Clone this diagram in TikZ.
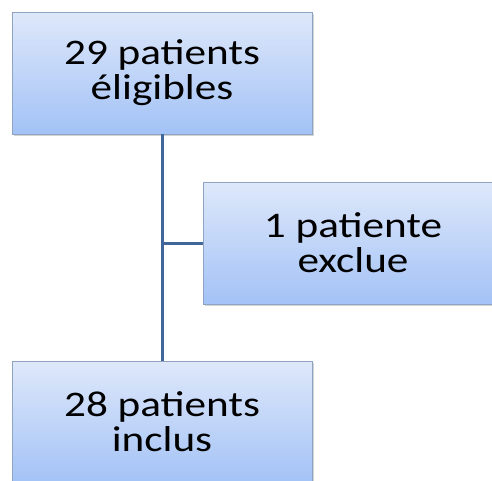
\documentclass[tikz,border=0pt]{standalone}
\usepackage{fontspec}
\newfontfamily\boxfont[FakeStretch=1.2]{Carlito}
\usepackage{tikz}
\usetikzlibrary{shadows}

\definecolor{boxtop}{HTML}{DEE8FA}
\definecolor{boxbot}{HTML}{A3C2F6}
\definecolor{boxedge}{HTML}{8FA3C2}
\definecolor{linkblue}{HTML}{41669A}

\begin{document}
\begin{tikzpicture}[x=1pt, y=-1pt,
    every node/.style={rectangle, draw=boxedge, line width=0.8pt,
        top color=boxtop, bottom color=boxbot,
        minimum width=300pt, minimum height=122pt, align=center,
        font=\boxfont\fontsize{36}{35}\selectfont,
        drop shadow={opacity=0.35, shadow xshift=1.5pt, shadow yshift=-2pt}}]
    \useasboundingbox (0,0) rectangle (492,480);
    \clip (0,0) rectangle (492,480);

    \node (elig) at (162,73) {29 patients\\éligibles};
    \node (excl) at (353,243) {1 patiente\\exclue};
    \node (incl) at (162,422) {28 patients\\inclus};
    \coordinate (j) at (elig |- excl);

    \draw[linkblue, line width=3pt] (elig) -- (incl);
    \draw[linkblue, line width=3pt] (j) -- (excl);
\end{tikzpicture}
\end{document}
